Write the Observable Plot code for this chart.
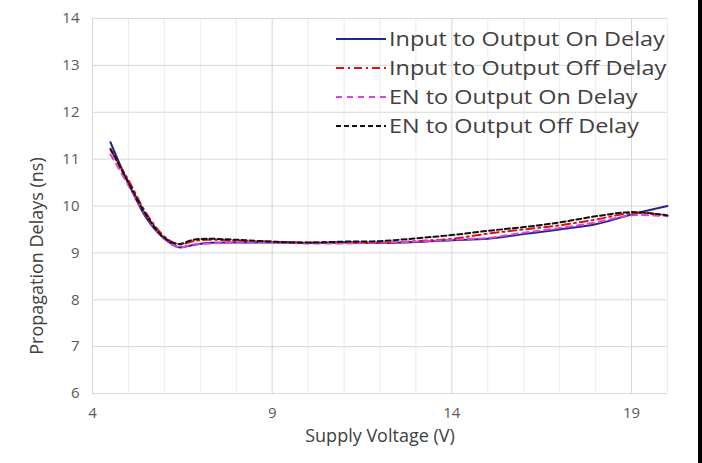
<!DOCTYPE html>
<html>
<head>
<meta charset="utf-8">
<script src="https://cdn.jsdelivr.net/npm/d3@7"></script>
<script src="https://cdn.jsdelivr.net/npm/@observablehq/plot@0.6"></script>
<style>
  body { margin: 0; background: #fff; }
  #wrap { position: relative; width: 702px; height: 463px; overflow: hidden; background: #fff; }
  #edge { position: absolute; top: 0; right: 0; width: 4px; height: 463px; background: #000; }
  #legend { position: absolute; left: 334px; top: 24px; font-family: "Open Sans", sans-serif; font-size: 20px; color: #404040; }
  #legend .row { display: flex; align-items: center; height: 29px; white-space: nowrap; }
  #legend svg { width: 54px; height: 10px; margin-right: 1px; flex: none; }
  #legend span { display: inline-block; transform: scaleX(1.17); transform-origin: left center; }
</style>
</head>
<body>
<div id="wrap"><div id="legend"></div><div id="edge"></div></div>
<script>
// Supply voltage sweep (V)
const voltage = [4.5, 5.0, 5.5, 6.0, 6.4, 6.8, 7.2, 8, 9, 10, 11, 12, 13, 14, 15, 16, 17, 18, 19, 20];

// Propagation delays (ns)
const inputOnDelay  = [11.36, 10.48, 9.74, 9.30, 9.12, 9.17, 9.21, 9.22, 9.22, 9.21, 9.22, 9.21, 9.23, 9.27, 9.30, 9.40, 9.50, 9.61, 9.82, 10.00];
const inputOffDelay = [11.20, 10.55, 9.84, 9.35, 9.18, 9.25, 9.28, 9.26, 9.24, 9.22, 9.22, 9.21, 9.25, 9.30, 9.41, 9.50, 9.59, 9.71, 9.85, 9.80];
const enOnDelay     = [11.10, 10.44, 9.78, 9.30, 9.12, 9.18, 9.20, 9.22, 9.22, 9.20, 9.20, 9.22, 9.24, 9.28, 9.32, 9.43, 9.53, 9.65, 9.80, 9.78];
const enOffDelay    = [11.22, 10.50, 9.80, 9.32, 9.19, 9.28, 9.30, 9.28, 9.24, 9.22, 9.24, 9.25, 9.31, 9.38, 9.47, 9.55, 9.65, 9.78, 9.87, 9.80];

const seriesNames = [
  "Input to Output On Delay",
  "Input to Output Off Delay",
  "EN to Output On Delay",
  "EN to Output Off Delay"
];
const seriesValues = [inputOnDelay, inputOffDelay, enOnDelay, enOffDelay];
const seriesStyle = [
  { stroke: "#25258f", dash: null },
  { stroke: "#e01010", dash: "8,4,2,4" },
  { stroke: "#dd44dd", dash: "6,5" },
  { stroke: "#111111", dash: "5,3" }
];

// Axis ticks
const xTicks = [4, 9, 14, 19];
const yTicks = [6, 7, 8, 9, 10, 11, 12, 13, 14];
const xGrid = d3.range(4, 21);

const tables = seriesValues.map((vals) => voltage.map((v, i) => ({ v, d: vals[i] })));

const font = "'Open Sans', sans-serif";

const chart = Plot.plot({
  width: 702,
  height: 463,
  marginLeft: 92,
  marginRight: 35,
  marginTop: 18,
  marginBottom: 70,
  style: { fontFamily: font, background: "#fff" },
  x: { domain: [4, 20] },
  y: { domain: [6, 14] },
  marks: [
    Plot.ruleX(xGrid, { stroke: (d) => (xTicks.includes(d) ? "#d6d6d6" : "#ececec"), strokeWidth: 1 }),
    Plot.ruleY(yTicks, { stroke: "#d9d9d9", strokeWidth: 1 }),
    Plot.axisX(xTicks, { tickSize: 0, tickPadding: 14, fontSize: 15, fill: "#595959", label: null }),
    Plot.axisY(yTicks, { tickSize: 0, tickPadding: 13, fontSize: 15, fill: "#595959", label: null }),
    ...tables.map((t, k) =>
      Plot.line(t, {
        x: "v", y: "d",
        curve: "catmull-rom",
        stroke: seriesStyle[k].stroke,
        strokeWidth: 2,
        strokeDasharray: seriesStyle[k].dash
      })
    ),
    Plot.text(["Supply Voltage (V)"], { frameAnchor: "bottom", dy: 48, fontSize: 18, fill: "#404040" }),
    Plot.text(["Propagation Delays (ns)"], {
      frameAnchor: "left", textAnchor: "middle", dx: -55, dy: 50, rotate: -90, fontSize: 18, fill: "#404040"
    })
  ]
});

const wrap = document.getElementById("wrap");
wrap.insertBefore(chart, wrap.firstChild);

// Legend with line samples
const legend = d3.select("#legend");
seriesNames.forEach((name, k) => {
  const row = legend.append("div").attr("class", "row");
  const svg = row.append("svg").attr("viewBox", "0 0 54 10");
  svg.append("line")
    .attr("x1", 2).attr("x2", 52).attr("y1", 5).attr("y2", 5)
    .attr("stroke", seriesStyle[k].stroke)
    .attr("stroke-width", 2)
    .attr("stroke-dasharray", seriesStyle[k].dash);
  row.append("span").text(name);
});
</script>
</body>
</html>
